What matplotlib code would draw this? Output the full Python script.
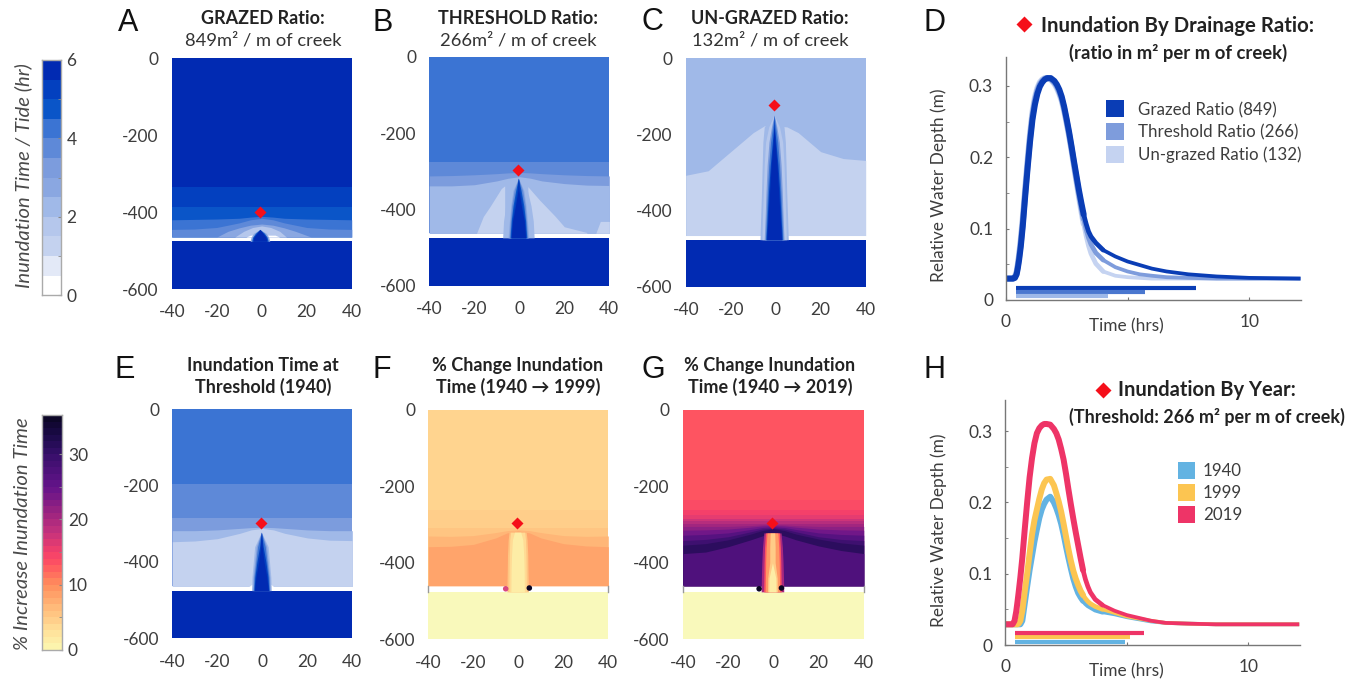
import numpy as np
import matplotlib
matplotlib.use("Agg")
import matplotlib.pyplot as plt
from matplotlib.colors import LinearSegmentedColormap, ListedColormap
from matplotlib.patches import Rectangle

W, H = 1346, 681
plt.rcParams['font.family'] = ['Lato', 'DejaVu Sans']
plt.rcParams['axes.unicode_minus'] = False
TXT = '#3d3d3d'
TICK_FS = 12.5

# ---------- data: inundation level colours (hours, 0.5 h classes) ----------
BLUE_LEVELS = ['#ffffff', '#e3e9f7', '#c4d2ef', '#b5c7ec', '#a0b9e8', '#8aa7e1',
               '#7c9cdd', '#5e89d8', '#3b74d3', '#0a55c8', '#0340bf', '#012ab2']
PCT_STOPS = [0, 3, 6, 10, 13, 15, 18, 21, 25, 30, 33, 36]
PCT_COLORS = ['#fbf8b0', '#ffdf98', '#ffc07e', '#ff8d5c', '#ff5560', '#f4406a',
              '#c5327c', '#9a2480', '#64138a', '#360f6a', '#1a0a48', '#0a0522']
NODES = [-40, -30, -20, -10, -5, 0, 5, 10, 20, 30, 40]

# ---------- data: panel contours. (class, top of band across NODES) ----------
A_BANDS = [(11, [0]*11),
           (10, [-334]*11),
           (9, [-386]*11),
           (8, [-420, -419, -418, -416, -413, -411, -413, -416, -418, -419, -420]),
           (7, [-445, -444, -440, -428, -420, -416, -420, -428, -440, -444, -445])]
A_GAP = (-465, -476)
A_ARCS = [(5, [-20, -15, -10, -5, 0, 5, 10, 15, 22], [-465, -450, -441, -434, -431, -434, -441, -450, -465]),
          (3, [-12, -8, -4, 0, 4, 8, 11], [-465, -450, -440, -436, -440, -450, -465]),
          (0, [-7, -5, 6, 8], [-465, -460, -460, -465])]
A_CREEK_Y = [-476, -465, -455, -445]
A_CREEK = [(5, [4.4, 3.9, 2.8, 0]), (9, [3.7, 3.2, 2.0, 0]), (11, [3.2, 2.7, 1.4, 0])]
A_CENTER = -0.8
A_MARK = (-0.6, -401)

B_BANDS = [(8, [0]*11),
           (7, [-275]*11),
           (6, [-312, -311, -309, -306, -304, -303, -304, -306, -309, -311, -312]),
           (4, [-338, -338, -335, -325, -318, -314, -318, -325, -332, -336, -337])]
B_GAP = (-462, -474)
B_ARCS = [(2, [-19, -16, -13, -8, -6.5], [-462, -418, -392, -345, -338]),
          (2, [3.8, 9, 16, 20, 30], [-340, -375, -418, -445, -460]),
          (2, [34, 36, 40], [-462, -431, -431])]
B_CREEK_Y = [-474, -430, -390, -350, -318]
B_CREEK = [(4, [7.0, 6.6, 5.6, 4.0, 0]),
           (5, [4.6, 4.0, 3.4, 2.4, 0]), (7, [4.1, 3.6, 3.0, 1.9, 0]),
           (9, [3.7, 3.2, 2.4, 1.2, 0]), (10, [3.4, 2.9, 1.9, 0.7, 0]),
           (11, [3.2, 2.6, 1.3, 0.2, 0])]
B_CENTER = -0.4
B_MARK = (-0.4, -296)

C_BANDS = [(4, [0]*11),
           (2, [-307, -295, -245, -195, -177, -177, -180, -195, -245, -263, -268])]
C_GAP = (-465, -476)
C_ARCS = []
C_CREEK_Y = [-476, -420, -350, -280, -220, -180, -149]
C_CREEK = [(4, [6.3, 6.0, 5.6, 5.3, 5.0, 4.4, 0]),
           (3, [5.4, 5.2, 4.8, 4.4, 3.8, 2.4, 0]),
           (6, [4.4, 4.0, 3.6, 3.1, 2.3, 1.2, 0]), (8, [3.9, 3.5, 3.0, 2.4, 1.6, 0.7, 0]),
           (10, [3.6, 3.1, 2.5, 1.7, 0.8, 0.2, 0]), (11, [3.3, 2.7, 2.0, 1.3, 0.4, 0, 0])]
C_CENTER = -0.7
C_MARK = (-0.6, -122)

E_BANDS = [(8, [0]*11),
           (7, [-196]*11),
           (6, [-284]*11),
           (4, [-318, -318, -316, -312, -310, -309, -310, -312, -316, -318, -318]),
           (2, [-347, -345, -339, -325, -316, -312, -316, -325, -337, -343, -344])]
E_GAP = (-464, -475)
E_ARCS = [(0, [-6, -4.4, 3.6, 5], [-464, -458, -458, -464])]
E_CREEK_Y = [-475, -440, -400, -360, -322]
E_CREEK = [(4, [4.4, 4.2, 3.6, 3.0, 0]), (6, [3.9, 3.7, 3.0, 2.3, 0]), (8, [3.6, 3.3, 2.5, 1.7, 0]),
           (10, [3.3, 2.9, 2.0, 0.8, 0]), (11, [3.1, 2.4, 1.2, 0.3, 0])]
E_CENTER = -0.4
E_MARK = (-0.4, -298)

F_BANDS = [(4.2, [0]*11),
           (4.7, [-262]*11),
           (5.5, [-310]*11),
           (6.8, [-330, -331, -329, -321, -316, -314, -316, -321, -329, -331, -330]),
           (8.2, [-358, -357, -352, -335, -322, -317, -322, -335, -350, -356, -358])]
F_GAP = (-460, -476)
F_ARCS = []
F_CREEK_Y = [-476, -420, -380, -340, -320]
F_CREEK = [(5.5, [4.8, 4.6, 4.5, 4.2, 3.8]), (3.4, [3.9, 3.8, 3.7, 3.5, 3.1]),
           (1.4, [3.0, 2.9, 2.7, 2.3, 1.4])]
F_CENTER = -0.3
F_MARK = (-0.4, -297)
F_DOTS = ([-5.6, 4.9], [-468, -466], ['#d8487e', '#0a0522'])

G_BANDS = [(13.2, [0]*11),
           (14.0, [-236]*11),
           (15.0, [-262]*11),
           (16.0, [-275]*11),
           (17.5, [-285]*11),
           (19.0, [-292]*11),
           (20.5, [-299]*11),
           (22.0, [-305, -305, -305, -303, -301, -300, -301, -303, -305, -305, -305]),
           (24.0, [-315, -314, -312, -307, -304, -303, -304, -307, -312, -314, -315]),
           (26.5, [-328, -326, -322, -313, -308, -306, -308, -313, -322, -326, -328]),
           (29.0, [-342, -339, -332, -319, -312, -309, -312, -319, -332, -339, -342]),
           (31.0, [-354, -350, -340, -325, -316, -311, -316, -325, -338, -348, -354]),
           (27.2, [-376, -372, -358, -340, -330, -322, -330, -340, -356, -368, -376])]
G_GAP = (-460, -476)
G_ARCS = []
G_CREEK_Y = [-476, -440, -400, -360, -322]
G_CREEK = [(20, [5.0, 4.9, 4.7, 4.4, 3.8]), (13, [3.9, 3.8, 3.7, 3.5, 3.1]),
           (9, [3.2, 3.1, 3.0, 2.8, 2.4]), (5, [2.2, 2.1, 1.2, 1.2, 1.0]),
           (1.5, [1.6, 1.5, 0.0, 0.0, 0.0])]
G_CENTER = -0.4
G_MARK = (-0.4, -297)
G_DOTS = ([-6.3, 3.6], [-468, -466], ['#0a0522', '#0a0522'])

# ---------- data: water depth curves ----------
T_HRS = [0, .3, .38, .45, .5, .55, .62, .7, .8, .9,
         1, 1.1, 1.2, 1.3, 1.4, 1.5, 1.6, 1.7, 1.85, 2,
         2.1, 2.2, 2.3, 2.4, 2.5, 2.6, 2.7, 2.8, 2.9, 3,
         3.1, 3.2, 3.3, 3.4, 3.5, 3.7, 4, 4.5, 5, 5.5,
         6, 6.6, 7.5, 8.66, 10, 12.1]
D_GRAZED = [.03, .03, .031, .036, .045, .056, .075, .103, .145, .185,
            .222, .253, .274, .289, .299, .305, .309, .311, .311, .307,
            .302, .295, .285, .271, .254, .236, .216, .195, .175, .155,
            .137, .120, .107, .096, .089, .080, .070, .061, .054, .049,
            .044, .040, .036, .033, .031, .030]
D_THRESH = [.03, .03, .032, .038, .048, .060, .080, .108, .150, .190,
            .228, .258, .279, .293, .302, .307, .310, .311, .310, .305,
            .300, .292, .282, .268, .251, .233, .213, .192, .171, .151,
            .132, .114, .099, .087, .078, .066, .056, .046, .040, .036,
            .034, .032, .031, .030, .030, .030]
D_UNGRAZED = [.03, .03, .033, .040, .051, .064, .086, .115, .157, .197,
              .234, .264, .284, .297, .305, .309, .311, .311, .309, .303,
              .297, .289, .279, .265, .248, .230, .210, .188, .167, .146,
              .126, .107, .090, .076, .065, .051, .040, .034, .032, .031,
              .030, .030, .030, .030, .030, .030]
D_LABELS = ['Grazed Ratio (849)', 'Threshold Ratio (266)', 'Un-grazed Ratio (132)']
D_BAR_END = [7.81, 5.73, 4.2]
D_BAR_Y = [0.0168, 0.0110, 0.0056]

H_2019 = [.029, .029, .034, .047, .060, .074, .095, .122, .162, .200,
          .235, .262, .283, .297, .304, .308, .310, .310, .309, .303,
          .297, .288, .275, .260, .240, .218, .197, .177, .158, .140,
          .122, .105, .092, .082, .074, .064, .056, .048, .042, .038,
          .034, .031, .030, .029, .029, .029]
H_1999 = [.029, .029, .029, .029, .029, .030, .034, .048, .075, .100,
          .128, .155, .175, .190, .205, .218, .227, .232, .233, .224,
          .213, .201, .187, .170, .152, .134, .118, .104, .093, .084,
          .076, .070, .065, .061, .058, .054, .050, .045, .040, .037,
          .034, .031, .030, .029, .029, .029]
H_1940 = [.029, .029, .029, .029, .029, .029, .029, .034, .058, .082,
          .105, .125, .145, .162, .178, .190, .198, .204, .208, .200,
          .192, .182, .170, .155, .138, .122, .107, .093, .082, .073,
          .067, .062, .058, .055, .053, .049, .046, .043, .039, .036,
          .033, .031, .030, .029, .029, .029]
H_LABELS = ['1940', '1999', '2019']
H_BAR_END = [4.94, 5.13, 5.72]
H_BAR_Y = [0.0047, 0.0107, 0.0164]

# ---------- helpers ----------
fig = plt.figure(figsize=(W/100, H/100), dpi=100)
pct_cmap = LinearSegmentedColormap.from_list('pct', [(s/36, c) for s, c in zip(PCT_STOPS, PCT_COLORS)])


def axes_px(l, t, r, b):
    return fig.add_axes([l/W, 1-b/H, (r-l)/W, (b-t)/H])


def text_px(x, y, s, **kw):
    kw.setdefault('ha', 'center')
    kw.setdefault('va', 'center')
    kw.setdefault('color', '#222222')
    return fig.text(x/W, 1-y/H, s, **kw)


def diamond_px(x, y, size=8.5):
    fig.add_artist(plt.Line2D([x/W], [1-y/H], marker='D', ms=size*0.75, color='#f50f1a',
                              mec='none', ls='none', transform=fig.transFigure))


def blue(v):
    return BLUE_LEVELS[int(v)]


def pct(v):
    return pct_cmap(v/36)


def panel(box, bands, gap, arcs, creek_y, creek, center, mark, col, land, dots=None):
    ax = axes_px(*box)
    ax.set_xlim(-40, 40)
    ax.set_ylim(-600, 0)
    for s in ax.spines.values():
        s.set_visible(False)
    ax.set_xticks([-40, -20, 0, 20, 40])
    ax.set_yticks([0, -200, -400, -600])
    ax.tick_params(length=0, labelsize=TICK_FS, labelcolor=TXT)
    ax.tick_params(axis='x', pad=11)
    ax.tick_params(axis='y', pad=9.5)
    for v, top in bands:
        ax.fill_between(NODES, top, gap[0], color=col(v), lw=0)
    for v, xs, ys in arcs:
        ax.fill_between(xs, ys, gap[0], color=col(v), lw=0)
    ax.fill_between([-40, 40], gap[1], -600, color=land, lw=0)
    yy = np.array(creek_y)
    for v, hw in creek:
        hw = np.array(hw)
        ax.fill_betweenx(yy, center-hw, center+hw, color=col(v), lw=0)
    if dots:
        ax.scatter(dots[0], dots[1], c=dots[2], s=16, lw=0, zorder=4)
        ax.plot([-40, -40], gap, color='#999999', lw=1, clip_on=False)
        ax.plot([40, 40], gap, color='#999999', lw=1, clip_on=False)
    ax.plot([mark[0]], [mark[1]], marker='D', ms=6.3, color='#f50f1a', mec='none', zorder=5)
    return ax


def curves(box, series, colors, bar_ends, bar_ys, ymax, ylabel_y, xlabel_y):
    ax = axes_px(*box)
    ax.set_xlim(0, 12.12)
    ax.set_ylim(0, ymax)
    for s in ['top', 'right']:
        ax.spines[s].set_visible(False)
    for s in ['left', 'bottom']:
        ax.spines[s].set_color('#777777')
        ax.spines[s].set_linewidth(1.0)
    ax.set_xticks([0, 5, 10], ['0', '', '10'])
    ax.set_yticks([0, 0.1, 0.2, 0.3], ['0', '0.1', '0.2', '0.3'])
    ax.set_yticks([0.05, 0.15, 0.25], minor=True)
    ax.tick_params(which='both', direction='in', length=2.5, color='#777777', labelsize=TICK_FS, labelcolor=TXT)
    ax.tick_params(axis='x', pad=10)
    ax.tick_params(axis='y', pad=9)
    for y, c in series:
        # the stroke of the reference narrows along the falling limb
        ax.plot(T_HRS[:32], y[:32], color=c, lw=4.3, solid_capstyle='round', solid_joinstyle='round')
        ax.plot(T_HRS[31:37], y[31:37], color=c, lw=3.4, solid_capstyle='round', solid_joinstyle='round')
        ax.plot(T_HRS[36:], y[36:], color=c, lw=2.7, solid_capstyle='butt', solid_joinstyle='round')
    for e, y, c in zip(bar_ends, bar_ys, colors):
        ax.plot([0.41, e], [y, y], color=c, lw=3.0, solid_capstyle='butt')
    text_px(939, ylabel_y, 'Relative Water Depth (m)', rotation=90, fontsize=12.4, color=TXT)
    text_px(1126, xlabel_y, 'Time (hrs)', fontsize=12.4, color=TXT)
    return ax


# ---------- map panels ----------
panel((171.7, 58.3, 351.7, 289), A_BANDS, A_GAP, A_ARCS, A_CREEK_Y, A_CREEK, A_CENTER, A_MARK, blue, '#012ab2')
panel((429.3, 56.7, 609.3, 286), B_BANDS, B_GAP, B_ARCS, B_CREEK_Y, B_CREEK, B_CENTER, B_MARK, blue, '#012ab2')
panel((685.7, 58.3, 865.7, 287), C_BANDS, C_GAP, C_ARCS, C_CREEK_Y, C_CREEK, C_CENTER, C_MARK, blue, '#012ab2')
panel((172.3, 409.3, 352.3, 638.3), E_BANDS, E_GAP, E_ARCS, E_CREEK_Y, E_CREEK, E_CENTER, E_MARK, blue, '#012ab2')
panel((428.3, 409.7, 608.3, 639.3), F_BANDS, F_GAP, F_ARCS, F_CREEK_Y, F_CREEK, F_CENTER, F_MARK, pct, '#f9f9bb', F_DOTS)
panel((683, 409.7, 863.7, 639.3), G_BANDS, G_GAP, G_ARCS, G_CREEK_Y, G_CREEK, G_CENTER, G_MARK, pct, '#f9f9bb', G_DOTS)

# ---------- colour bars ----------
cb1 = axes_px(41.7, 60, 61.3, 295.3)
cb1.pcolormesh([0, 1], np.arange(0, 6.5, 0.5), np.arange(12).reshape(-1, 1), cmap=ListedColormap(BLUE_LEVELS), vmin=0, vmax=11)
cb1.set_xticks([])
cb1.yaxis.tick_right()
cb1.set_yticks([0, 2, 4, 6])
cb1.set_yticks([1, 3, 5], minor=True)
cb1.tick_params(which='both', direction='in', length=2, color='#888888', labelsize=TICK_FS, labelcolor=TXT, pad=3.6)
text_px(23, 176, 'Inundation Time / Tide (hr)', rotation=90, style='italic', fontsize=14.6, color='#4a4a4a')

cb2 = axes_px(41.7, 415, 61.6, 650)
cb2.pcolormesh([0, 1], np.arange(0, 37), (np.arange(36)+0.5).reshape(-1, 1), cmap=pct_cmap, vmin=0, vmax=36)
cb2.set_xticks([])
cb2.yaxis.tick_right()
cb2.set_yticks([0, 10, 20, 30])
cb2.set_yticks([5, 15, 25], minor=True)
cb2.tick_params(which='both', direction='in', length=2, color='#888888', labelsize=TICK_FS, labelcolor=TXT, pad=4.6)
text_px(23, 534, '% Increase Inundation Time', rotation=90, style='italic', fontsize=14.6, color='#4a4a4a')
for cb in (cb1, cb2):
    for s in cb.spines.values():
        s.set_color('#aaaaaa')
        s.set_linewidth(1.0)

# ---------- line panels ----------
D_COL = ['#0a3db5', '#7e9cdc', '#c5d3f1']
H_COL = ['#63b3e2', '#fcc551', '#ee3467']
curves((1005.7, 56.7, 1301, 300), [(D_UNGRAZED, D_COL[2]), (D_THRESH, D_COL[1]), (D_GRAZED, D_COL[0])],
       ['#0a3db5', '#4a77cf', '#9db8e8'], D_BAR_END, D_BAR_Y, 0.341, 185, 326)
curves((1005.3, 400, 1299.7, 645), [(H_1940, H_COL[0]), (H_1999, H_COL[1]), (H_2019, H_COL[2])],
       H_COL, H_BAR_END, H_BAR_Y, 0.3436, 530.7, 671.7)


def swatch(x0, y0, x1, y1, c):
    fig.add_artist(Rectangle((x0/W, 1-y1/H), (x1-x0)/W, (y1-y0)/H, color=c, lw=0, transform=fig.transFigure))


for (y0, y1, yc), c, s in zip([(100, 117, 110), (123, 140, 132.5), (145.5, 162.5, 155)], D_COL, D_LABELS):
    swatch(1106, y0, 1123.5, y1, c)
    text_px(1138, yc, s, ha='left', fontsize=12.2, color=TXT)
for (y0, y1, yc), c, s in zip([(462, 479, 470.7), (484, 501, 493), (505.7, 522.7, 515)], H_COL, H_LABELS):
    swatch(1177.7, y0, 1195.3, y1, c)
    text_px(1202.7, yc, s, ha='left', fontsize=12.2, color=TXT)

# ---------- titles ----------
LET = dict(fontsize=22, family='Liberation Sans', color='#111111')
for x, y, s in [(128, 23, 'A'), (383, 23, 'B'), (652, 22, 'C'), (934, 23, 'D'),
                (125, 370, 'E'), (382, 370, 'F'), (653, 370, 'G'), (934, 370, 'H')]:
    text_px(x, y, s, **LET)

TB = dict(fontsize=13.0, fontweight='bold')
TR = dict(fontsize=13.2, color='#333333')
text_px(263, 18, 'GRAZED Ratio:', **TB)
text_px(263, 40, '849m² / m of creek', **TR)
text_px(518, 18, 'THRESHOLD Ratio:', **TB)
text_px(518, 40, '266m² / m of creek', **TR)
text_px(770, 18, 'UN-GRAZED Ratio:', **TB)
text_px(770, 40, '132m² / m of creek', **TR)
text_px(263, 366, 'Inundation Time at', **TB)
text_px(263, 387, 'Threshold (1940)', **TB)
text_px(518, 366, '% Change Inundation', **TB)
text_px(518, 387, 'Time (1940 → 1999)', **TB)
text_px(770, 366, '% Change Inundation', **TB)
text_px(770, 387, 'Time (1940 → 2019)', **TB)

diamond_px(1023.7, 24, 11)
text_px(1178, 26.5, 'Inundation By Drainage Ratio:', fontsize=14.7, fontweight='bold')
text_px(1178, 53, '(ratio in m² per m of creek)', fontsize=13.3, fontweight='bold')
diamond_px(1103, 390, 11)
text_px(1207, 390, 'Inundation By Year:', fontsize=14.5, fontweight='bold')
text_px(1207, 417, '(Threshold: 266 m² per m of creek)', fontsize=12.9, fontweight='bold')

fig.savefig('out.png', dpi=100, facecolor='white')
